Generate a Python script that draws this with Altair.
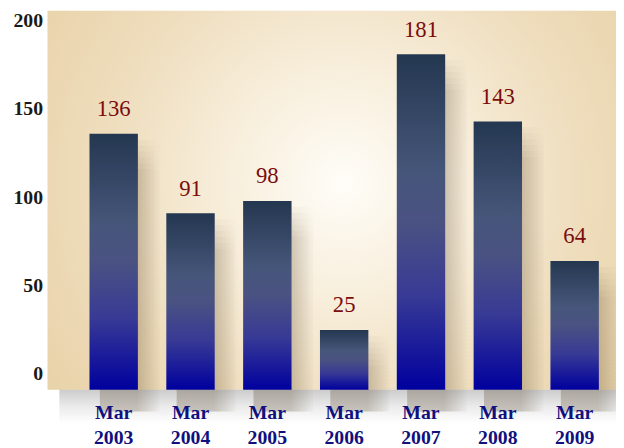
import altair as alt
import pandas as pd

categories = ["Mar 2003", "Mar 2004", "Mar 2005", "Mar 2006", "Mar 2007", "Mar 2008", "Mar 2009"]
values = [136, 91, 98, 25, 181, 143, 64]
y_ticks = [0, 50, 100, 150, 200]

df = pd.DataFrame({"period": categories, "value": values})

W, H = 576, 384
SERIF = "Liberation Serif"
Y_BOTTOM = -8.94

x_scale = alt.Scale(paddingInner=0.37, paddingOuter=0.385, align=0.71)
y_scale = alt.Scale(domain=[Y_BOTTOM, 205.59], nice=False, zero=False)

x_axis = alt.Axis(
    title=None, labelAngle=0, labelExpr="split(datum.label, ' ')",
    labelFont=SERIF, labelFontSize=20, labelFontWeight="bold",
    labelColor="#10107e", labelLineHeight=25, labelPadding=13,
    domain=False, ticks=False, grid=False, zindex=1,
)
y_axis = alt.Axis(
    title=None, values=y_ticks, labelFont=SERIF, labelFontSize=20,
    labelFontWeight="bold", labelColor="#1a1a1a", labelPadding=5,
    domain=False, ticks=False, grid=False, zindex=1,
)

X = alt.X("period:N", sort=categories, scale=x_scale, axis=x_axis)
Y = alt.Y("value:Q", scale=y_scale, axis=y_axis)

bg_gradient = alt.RadialGradient(
    gradient="radial",
    stops=[
        alt.GradientStop(offset=0, color="#fffdf8"),
        alt.GradientStop(offset=0.3, color="#f8efdd"),
        alt.GradientStop(offset=0.68, color="#eedcbb"),
        alt.GradientStop(offset=1, color="#e8d2a8"),
    ],
    x1=0.52, y1=0.47, r1=0, x2=0.52, y2=0.47, r2=0.64,
)

background = alt.Chart(alt.Data(values=[{}])).mark_rect(color=bg_gradient).encode(
    x=alt.value(0), x2=alt.value(W), y=alt.value(0), y2=alt.value(H)
)

band_gradient = alt.LinearGradient(
    gradient="linear",
    stops=[
        alt.GradientStop(offset=0, color="rgba(0,0,0,0.20)"),
        alt.GradientStop(offset=0.5, color="rgba(0,0,0,0.08)"),
        alt.GradientStop(offset=1, color="rgba(0,0,0,0)"),
    ],
    x1=0, y1=0, x2=0, y2=1,
)
under_band = alt.Chart(alt.Data(values=[{}])).mark_rect(color=band_gradient).encode(
    x=alt.value(12), x2=alt.value(W), y=alt.value(H), y2=alt.value(H + 34)
)

shadow_gradient = alt.LinearGradient(
    gradient="linear",
    stops=[
        alt.GradientStop(offset=0, color="rgba(60,40,10,0.045)"),
        alt.GradientStop(offset=0.6, color="rgba(60,40,10,0.045)"),
        alt.GradientStop(offset=1, color="rgba(60,40,10,0)"),
    ],
    x1=0, y1=0, x2=1, y2=0,
)

base = alt.Chart(df)

shadows = [
    base.mark_bar(
        color=shadow_gradient, size=62, xOffset=17, yOffset=off, y2Offset=22
    ).encode(x=X, y=Y, y2=alt.datum(Y_BOTTOM))
    for off in (6, 12, 18, 24, 30, 36)
]

bar_gradient = alt.LinearGradient(
    gradient="linear",
    stops=[
        alt.GradientStop(offset=0, color="#243750"),
        alt.GradientStop(offset=0.35, color="#46567a"),
        alt.GradientStop(offset=0.5, color="#4a5282"),
        alt.GradientStop(offset=0.72, color="#383a95"),
        alt.GradientStop(offset=1, color="#00009e"),
    ],
    x1=0, y1=0, x2=0, y2=1,
)

bars = base.mark_bar(color=bar_gradient).encode(x=X, y=Y, y2=alt.datum(Y_BOTTOM))

labels = base.mark_text(
    baseline="bottom", dy=-13, font=SERIF, fontSize=23, color="#7a0c0c"
).encode(x=X, y=Y, text="value:Q")

chart = alt.layer(background, under_band, *shadows, bars, labels).properties(
    width=W, height=H, autosize="none",
    padding={"left": 40, "top": 0, "right": 0, "bottom": 56},
).configure_view(strokeWidth=0)

chart.save("out.html", embed_options={"renderer": "svg", "actions": False})
